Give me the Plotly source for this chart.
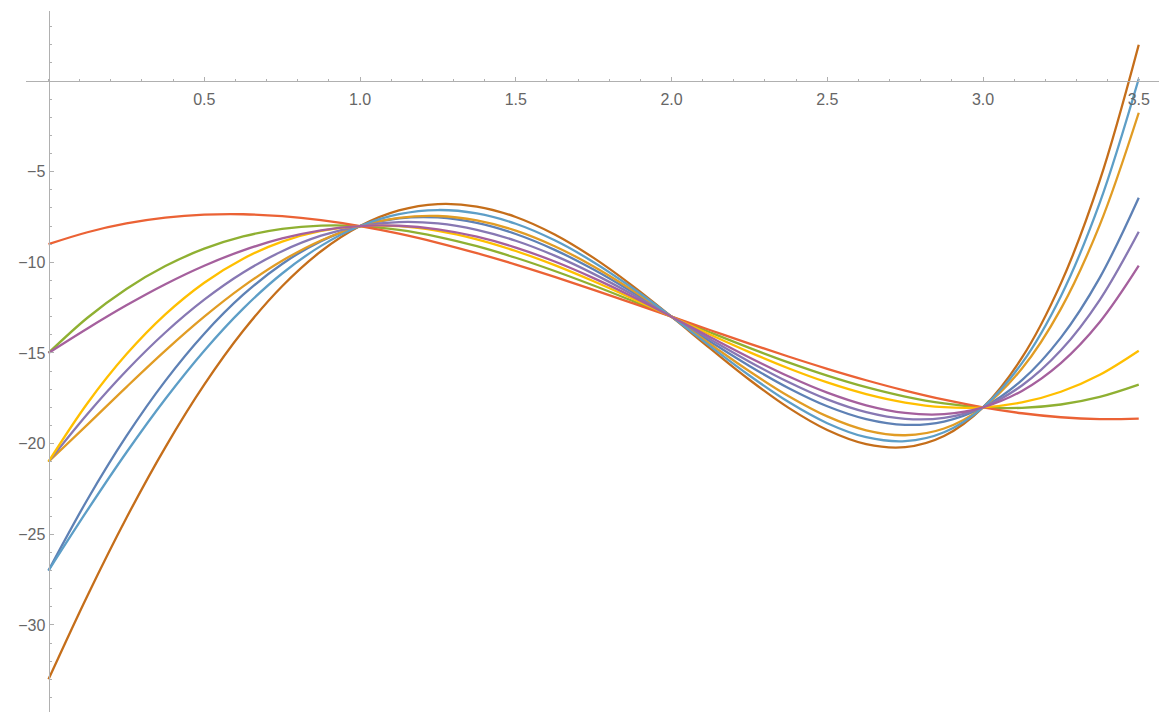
import plotly.graph_objects as go

x_vals = [0, 0.125, 0.25, 0.375, 0.5, 0.625, 0.75, 0.875, 1.0, 1.125, 1.25, 1.375, 1.5, 1.625,
          1.75, 1.875, 2.0, 2.125, 2.25, 2.375, 2.5, 2.625, 2.75, 2.875, 3.0, 3.125, 3.25, 3.375, 3.5]

series_blue = [-27, -23.082, -19.590, -16.539, -13.938, -11.789, -10.090, -8.832, -8, -7.574, -7.527,
               -7.828, -8.438, -9.312, -10.402, -11.652, -13, -14.379, -15.715, -16.929, -17.938,
               -18.648, -18.965, -18.785, -18, -16.496, -14.152, -10.843, -6.438]
series_orange = [-21, -18.955, -16.883, -14.873, -13.0, -11.330, -9.914, -8.794, -8, -7.548, -7.445,
                 -7.685, -8.25, -9.111, -10.227, -11.544, -13, -14.517, -16.008, -17.373, -18.5,
                 -19.267, -19.539, -19.169, -18, -15.861, -12.570, -7.935, -1.75]
series_green = [-15, -13.059, -11.469, -10.207, -9.25, -8.574, -8.156, -7.973, -8, -8.215, -8.594,
                -9.113, -9.75, -10.480, -11.281, -12.129, -13, -13.871, -14.719, -15.520, -16.25,
                -16.887, -17.406, -17.785, -18, -18.027, -17.844, -17.426, -16.75]
series_red = [-9, -8.342, -7.859, -7.541, -7.375, -7.350, -7.453, -7.674, -8, -8.420, -8.922,
              -9.494, -10.125, -10.803, -11.516, -12.252, -13, -13.748, -14.484, -15.197, -15.875,
              -16.506, -17.078, -17.580, -18, -18.326, -18.547, -18.650, -18.625]
series_lavender = [-21, -18.365, -15.980, -13.873, -12.063, -10.564, -9.387, -8.533, -8, -7.779, -7.855,
                   -8.209, -8.813, -9.635, -10.637, -11.775, -13, -14.256, -15.480, -16.607, -17.563,
                   -18.267, -18.637, -18.580, -18, -16.795, -14.855, -12.068, -8.313]
series_brown = [-33, -28.388, -24.102, -20.205, -16.75, -13.779, -11.320, -9.392, -8, -7.138, -6.789,
                -6.923, -7.5, -8.466, -9.758, -11.298, -13, -14.763, -16.477, -18.017, -19.25,
                -20.029, -20.195, -19.580, -18, -15.263, -11.164, -5.486, 2.0]
series_lightblue = [-27, -23.671, -20.492, -17.539, -14.875, -12.554, -10.617, -9.093, -8, -7.343, -7.117,
                    -7.304, -7.875, -8.789, -9.992, -11.421, -13, -14.640, -16.242, -17.695, -18.875,
                    -19.648, -19.867, -19.375, -18, -15.562, -11.867, -6.710, 0.125]
series_yellow = [-21, -17.775, -15.078, -12.873, -11.125, -9.799, -8.859, -8.271, -8, -8.010, -8.266,
                 -8.732, -9.375, -10.158, -11.047, -12.006, -13, -13.994, -14.953, -15.842, -16.625,
                 -17.268, -17.734, -17.990, -18, -17.729, -17.141, -16.201, -14.875]
series_magenta = [-15, -13.648, -12.371, -11.207, -10.188, -9.340, -8.684, -8.234, -8, -7.984, -8.184,
                  -8.590, -9.188, -9.957, -10.871, -11.898, -13, -14.133, -15.246, -16.285, -17.188,
                  -17.886, -18.309, -18.375, -18, -17.094, -15.559, -13.293, -10.188]

x_tick_vals = [0.5, 1.0, 1.5, 2.0, 2.5, 3.0, 3.5]
x_tick_text = ["0.5", "1.0", "1.5", "2.0", "2.5", "3.0", "3.5"]
y_tick_vals = [-5, -10, -15, -20, -25, -30]
y_tick_text = ["\u22125", "\u221210", "\u221215", "\u221220", "\u221225", "\u221230"]

series = [
    (series_blue, "#5E81B5"),
    (series_orange, "#E19C24"),
    (series_green, "#8FB032"),
    (series_red, "#EB6235"),
    (series_lavender, "#8778B3"),
    (series_brown, "#C56E1A"),
    (series_lightblue, "#5D9EC7"),
    (series_yellow, "#FFBF00"),
    (series_magenta, "#A5609D"),
]

fig = go.Figure()
for ys, col in series:
    fig.add_trace(go.Scatter(x=x_vals, y=ys, mode="lines",
                             line=dict(color=col, width=2.3, shape="spline", smoothing=1.0),
                             showlegend=False, hoverinfo="skip"))

W, H = 1159, 712
axis_col = "#b0b0b0"
label_col = "#666666"
font = dict(family="Liberation Sans, Arial, sans-serif", size=16, color=label_col)

x_left_px = 26
x0_px = 48.5
px_per_x = 311.5
y_top_px = 11
y0_px = 81
px_per_y = 18.13

x_min = -(x0_px - x_left_px) / px_per_x
x_max = (W - x0_px) / px_per_x
y_max = (y0_px - y_top_px) / px_per_y
y_min = -(H - y0_px) / px_per_y

fig.update_layout(
    width=W, height=H,
    margin=dict(l=0, r=0, t=0, b=0),
    plot_bgcolor="white", paper_bgcolor="white",
    font=font,
    xaxis=dict(
        domain=[x_left_px / W, 1],
        range=[x_min, x_max],
        anchor="free",
        position=(H - y0_px) / H,
        showgrid=False, zeroline=False,
        showline=True, linecolor=axis_col, linewidth=1,
        tickmode="array", tickvals=x_tick_vals, ticktext=x_tick_text,
        ticks="inside", ticklen=4, tickcolor=axis_col, tickwidth=1,
        tickfont=font, ticklabelstandoff=4,
        minor=dict(tickmode="linear", tick0=0, dtick=0.1, ticks="inside",
                   ticklen=2, tickcolor=axis_col, showgrid=False),
    ),
    yaxis=dict(
        domain=[0, (H - y_top_px) / H],
        range=[y_min, y_max],
        anchor="free",
        position=x0_px / W,
        showgrid=False, zeroline=False,
        showline=True, linecolor=axis_col, linewidth=1,
        tickmode="array", tickvals=y_tick_vals, ticktext=y_tick_text,
        ticks="inside", ticklen=4, tickcolor=axis_col, tickwidth=1,
        tickfont=font,
        minor=dict(tickmode="linear", tick0=0, dtick=1, ticks="inside",
                   ticklen=2, tickcolor=axis_col, showgrid=False),
    ),
)

fig.write_html("out.html", config={"displayModeBar": False},
               post_script="document.body.style.margin='0';document.body.style.overflow='hidden';")
